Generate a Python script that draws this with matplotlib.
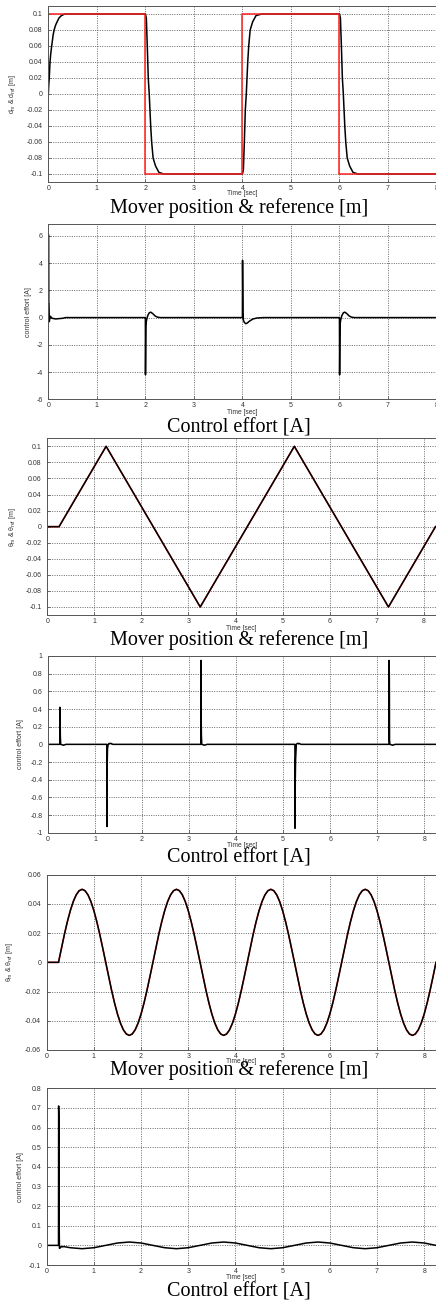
import matplotlib
matplotlib.use("Agg")
import matplotlib.pyplot as plt

# ---------------- data ----------------
# Panel 1: square-wave reference and mover position
t_ref1 = [0, 2, 2, 4, 4, 6, 6, 8]
ref1 = [0.1, 0.1, -0.1, -0.1, 0.1, 0.1, -0.1, -0.1]
t_pos1 = [0, 0.01, 0.02, 0.035, 0.05, 0.07, 0.1, 0.12, 0.15, 0.18, 0.22, 0.27, 0.34,
          2.0, 2.02, 2.04, 2.06, 2.08, 2.11, 2.13, 2.16, 2.21, 2.28, 2.38,
          4.0, 4.02, 4.04, 4.06, 4.08, 4.11, 4.13, 4.16, 4.21, 4.28, 4.4,
          6.0, 6.02, 6.04, 6.06, 6.08, 6.11, 6.13, 6.16, 6.21, 6.28, 6.38, 8.0]
pos1 = [0, 0.012, 0.02, 0.04, 0.05, 0.06, 0.074, 0.08, 0.086, 0.09, 0.095, 0.098, 0.1,
        0.1, 0.095, 0.06, 0.02, 0.0, -0.04, -0.06, -0.08, -0.09, -0.098, -0.1,
        -0.1, -0.095, -0.06, -0.02, 0.0, 0.04, 0.06, 0.08, 0.09, 0.098, 0.1,
        0.1, 0.095, 0.06, 0.02, 0.0, -0.04, -0.06, -0.08, -0.09, -0.098, -0.1, -0.1]

# Panel 2: control effort for square-wave
t_u2 = [0, 0.003, 0.008, 0.012, 0.02, 0.04, 0.08, 0.15, 0.3, 0.35,
        2.0, 2.003, 2.008, 2.012, 2.02, 2.03, 2.05, 2.08, 2.11, 2.15, 2.2, 2.25, 2.31,
        4.0, 4.003, 4.008, 4.012, 4.02, 4.04, 4.07, 4.1, 4.15, 4.22, 4.3, 4.44,
        6.0, 6.003, 6.008, 6.012, 6.02, 6.03, 6.05, 6.08, 6.11, 6.15, 6.2, 6.25, 6.31, 8.0]
u2 = [0, 6.1, 1.0, 1.0, -0.3, 0.1, -0.05, -0.1, -0.05, 0,
      0, -4.2, -1.8, -0.6, -0.3, -0.1, 0.15, 0.35, 0.4, 0.3, 0.12, 0.03, 0,
      0, 4.2, 2.0, 0.3, -0.2, -0.35, -0.45, -0.4, -0.25, -0.1, -0.03, 0,
      0, -4.2, -1.8, -0.6, -0.3, -0.1, 0.15, 0.35, 0.4, 0.3, 0.12, 0.03, 0, 0]

# Panel 3: triangular reference / position
t_tri = [0, 0.25, 1.25, 3.25, 5.25, 7.25, 8.25]
ref3 = [0, 0, 0.1, -0.1, 0.1, -0.1, 0]
pos3 = [0, 0, 0.1, -0.1, 0.1, -0.1, 0]

# Panel 4: control effort for triangle
t_u4 = [0, 0.25, 0.253, 0.258, 0.262, 0.27, 0.3, 0.33, 0.38,
        1.25, 1.253, 1.258, 1.265, 1.28, 1.3, 1.34, 1.38,
        3.25, 3.253, 3.258, 3.262, 3.27, 3.3, 3.33, 3.38,
        5.25, 5.253, 5.258, 5.265, 5.28, 5.3, 5.34, 5.38,
        7.25, 7.253, 7.258, 7.262, 7.27, 7.3, 7.33, 7.38, 8.25]
u4 = [0, 0, 0.42, 0.35, 0.1, 0.0, -0.005, -0.01, 0,
      0, -0.93, -0.25, -0.05, 0.0, 0.01, 0.01, 0,
      0, 0.95, 0.25, 0.1, 0.0, -0.005, -0.01, 0,
      0, -0.95, -0.4, -0.17, 0.0, 0.01, 0.01, 0,
      0, 0.95, 0.75, 0.05, 0.0, -0.005, -0.01, 0, 0]

# Panel 5: sinusoidal reference / position, sampled every 0.0625 s after t = 0.25
t_sin = [0] + [0.25 + 0.0625 * k for k in range(129)]
_half = [0, 0.00975, 0.01913, 0.02778, 0.03536, 0.04157, 0.04619, 0.04904,
         0.05, 0.04904, 0.04619, 0.04157, 0.03536, 0.02778, 0.01913, 0.00975]
_cyc = _half + [-v for v in _half]
ref5 = [0] + _cyc * 4 + [0]
pos5 = list(ref5)

# Panel 6: control effort for sinusoid
t_u6 = [0, 0.25, 0.253, 0.258, 0.262, 0.27, 0.29, 0.31, 0.33, 0.36, 0.5, 0.75, 1.0,
        1.25, 1.5, 1.75, 2.0, 2.25, 2.5, 2.75, 3.0, 3.25, 3.5, 3.75, 4.0, 4.25, 4.5,
        4.75, 5.0, 5.25, 5.5, 5.75, 6.0, 6.25, 6.5, 6.75, 7.0, 7.25, 7.5, 7.75, 8.0, 8.25]
u6 = [0, 0, 0.71, 0.65, 0.15, -0.015, -0.012, -0.005, -0.008, -0.006, -0.012, -0.017, -0.012,
      0, 0.012, 0.017, 0.012, 0, -0.012, -0.017, -0.012, 0, 0.012, 0.017, 0.012, 0, -0.012,
      -0.017, -0.012, 0, 0.012, 0.017, 0.012, 0, -0.012, -0.017, -0.012, 0, 0.012, 0.017, 0.012, 0]

xticks1 = [0, 1, 2, 3, 4, 5, 6, 7, 8]
yt_pos = [-0.1, -0.08, -0.06, -0.04, -0.02, 0, 0.02, 0.04, 0.06, 0.08, 0.1]
yl_pos = ['-0.1', '-0.08', '-0.06', '-0.04', '-0.02', '0', '0.02', '0.04', '0.06', '0.08', '0.1']
yt_u2 = [-6, -4, -2, 0, 2, 4, 6]
yl_u2 = ['-6', '-4', '-2', '0', '2', '4', '6']
yt_u4 = [-1, -0.8, -0.6, -0.4, -0.2, 0, 0.2, 0.4, 0.6, 0.8, 1]
yl_u4 = ['-1', '-0.8', '-0.6', '-0.4', '-0.2', '0', '0.2', '0.4', '0.6', '0.8', '1']
yt_sin = [-0.06, -0.04, -0.02, 0, 0.02, 0.04, 0.06]
yl_sin = ['-0.06', '-0.04', '-0.02', '0', '0.02', '0.04', '0.06']
yt_u6 = [-0.1, 0, 0.1, 0.2, 0.3, 0.4, 0.5, 0.6, 0.7, 0.8]
yl_u6 = ['-0.1', '0', '0.1', '0.2', '0.3', '0.4', '0.5', '0.6', '0.7', '0.8']

title_pos = 'Mover position & reference [m]'
title_u = 'Control effort [A]'
ylab_d = r'$d_m$ & $d_{ref}$ [m]'
ylab_th = r'$\theta_m$ & $\theta_{ref}$ [m]'
ylab_u = 'control effort [A]'
xlab = 'Time [sec]'

# ---------------- figure ----------------
W, H = 436, 1308
plt.rcParams['font.family'] = ['Liberation Sans', 'DejaVu Sans']
plt.rcParams['mathtext.fontset'] = 'custom'
plt.rcParams['mathtext.rm'] = 'Liberation Sans'
plt.rcParams['mathtext.it'] = 'Liberation Sans'
fig = plt.figure(figsize=(W / 100, H / 100), dpi=100)


def add_ax(l, r, t, b):
    return fig.add_axes([l / W, 1 - b / H, (r - l) / W, (b - t) / H])


def style(ax, xlim, ylim, yt, yl, ylabel, ylab_x, l, r, xlab_y):
    ax.set_xlim(*xlim)
    ax.set_ylim(*ylim)
    ax.set_xticks(xticks1)
    ax.set_xticklabels([str(v) for v in xticks1])
    ax.set_yticks(yt)
    ax.set_yticklabels(yl)
    ax.grid(True, color='#555555', linestyle=(0, (1.2, 1.6)), linewidth=0.6)
    ax.tick_params(direction='in', length=2.5, width=0.5, labelsize=5,
                   colors='#444444', labelcolor='#333333')
    ax.tick_params(axis='y', pad=4)
    ax.tick_params(axis='x', pad=2.2)
    for s in ax.spines.values():
        s.set_color('#555555')
        s.set_linewidth(0.7)
    ax.set_ylabel(ylabel, fontsize=5, color='#333333')
    ax.yaxis.set_label_coords((ylab_x + 2.5 - l) / (r - l), 0.5)
    cx = (l + r) / 2
    fig.text(cx / W, 1 - xlab_y / H, xlab, fontsize=4.8, color='#333333',
             ha='center', va='center')


title_kw = dict(fontsize=14.5, family='Liberation Serif', ha='center', va='center', color='black')
lw = 1.1

# Panel 1
l, r, t, b = 48.3, 436.5, 6, 182
ax1 = add_ax(l, r, t, b)
ax1.plot(t_pos1, pos1, color='black', lw=lw)
ax1.plot(t_ref1, ref1, color='#ff2020', lw=lw)
style(ax1, (0, 8), (-0.11, 0.11), yt_pos, yl_pos, ylab_d, 15, l, r, 193.8)
fig.text(239 / W, 1 - 208.3 / H, title_pos, **title_kw)

# Panel 2
l, r, t, b = 48.3, 436.5, 224.3, 399.3
ax2 = add_ax(l, r, t, b)
ax2.plot(t_u2, u2, color='black', lw=lw)
style(ax2, (0, 8), (-6, 6.85), yt_u2, yl_u2, ylab_u, 29, l, r, 412.8)
fig.text(239 / W, 1 - 428.3 / H, title_u, **title_kw)

# Panel 3
l, r, t, b = 47.3, 435.5, 438.3, 615
ax3 = add_ax(l, r, t, b)
ax3.plot(t_tri, ref3, color='#ff2020', lw=lw)
ax3.plot(t_tri, pos3, color='black', lw=lw)
style(ax3, (0, 8.25), (-0.11, 0.11), yt_pos, yl_pos, ylab_th, 15, l, r, 628.2)
fig.text(239 / W, 1 - 640 / H, title_pos, **title_kw)

# Panel 4
l, r, t, b = 48.0, 436, 656, 832.7
ax4 = add_ax(l, r, t, b)
ax4.plot(t_u4, u4, color='black', lw=lw)
style(ax4, (0, 8.25), (-1, 1), yt_u4, yl_u4, ylab_u, 21.7, l, r, 845.5)
fig.text(239 / W, 1 - 858.3 / H, title_u, **title_kw)

# Panel 5
l, r, t, b = 46.7, 436, 874.7, 1050
ax5 = add_ax(l, r, t, b)
ax5.plot(t_sin, ref5, color='#ff2020', lw=lw)
ax5.plot(t_sin, pos5, color='black', lw=lw)
style(ax5, (0, 8.25), (-0.06, 0.06), yt_sin, yl_sin, ylab_th, 13, l, r, 1061.8)
fig.text(239 / W, 1 - 1070.5 / H, title_pos, **title_kw)

# Panel 6
l, r, t, b = 46.7, 436, 1088.3, 1265
ax6 = add_ax(l, r, t, b)
ax6.plot(t_u6, u6, color='black', lw=lw)
style(ax6, (0, 8.25), (-0.1, 0.8), yt_u6, yl_u6, ylab_u, 21.7, l, r, 1277.8)
fig.text(239 / W, 1 - 1291.7 / H, title_u, **title_kw)

fig.savefig('out.png', dpi=100)
